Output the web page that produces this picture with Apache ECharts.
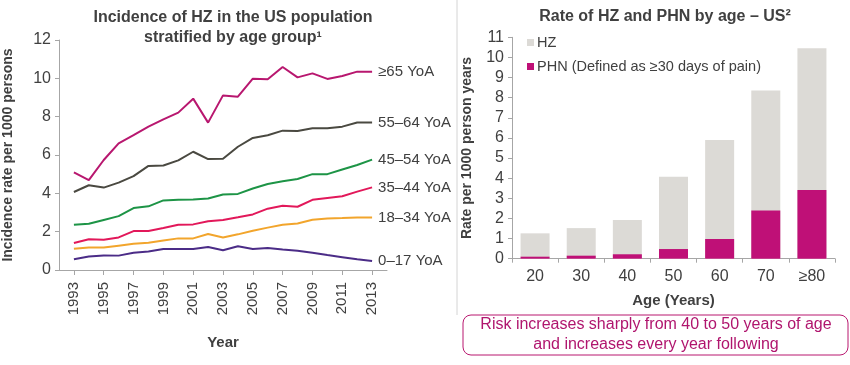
<!DOCTYPE html>
<html>
<head>
<meta charset="utf-8">
<script src="https://cdn.jsdelivr.net/npm/echarts@6/dist/echarts.min.js"></script>
<style>html,body{margin:0;padding:0;background:#fff}#c{width:850px;height:365px}</style>
</head>
<body>
<div id="c"></div>
<script>
const years = [1993,1994,1995,1996,1997,1998,1999,2000,2001,2002,2003,2004,2005,2006,2007,2008,2009,2010,2011,2012,2013];
const yearTicks = [1993,1995,1997,1999,2001,2003,2005,2007,2009,2011,2013];
const age65plus = [5.09,4.69,5.74,6.61,7.04,7.48,7.86,8.21,8.94,7.69,9.11,9.04,9.98,9.95,10.59,10.05,10.26,9.97,10.12,10.35,10.35];
const age55to64 = [4.07,4.42,4.30,4.56,4.90,5.43,5.45,5.72,6.17,5.79,5.80,6.43,6.89,7.03,7.27,7.25,7.39,7.39,7.48,7.70,7.70];
const age45to54 = [2.36,2.41,2.61,2.81,3.23,3.32,3.63,3.66,3.68,3.73,3.94,3.97,4.25,4.49,4.63,4.75,5.00,5.00,5.24,5.48,5.76];
const age35to44 = [1.41,1.60,1.58,1.70,2.03,2.03,2.19,2.36,2.38,2.54,2.61,2.75,2.90,3.20,3.35,3.30,3.66,3.76,3.85,4.09,4.31];
const age18to34 = [1.11,1.18,1.17,1.27,1.37,1.42,1.54,1.65,1.65,1.88,1.70,1.86,2.05,2.21,2.36,2.43,2.62,2.69,2.71,2.74,2.74];
const age0to17 = [0.56,0.70,0.76,0.75,0.90,0.97,1.10,1.10,1.10,1.20,1.03,1.24,1.10,1.15,1.07,1.00,0.90,0.78,0.67,0.56,0.47];
const lineNames = ['≥65 YoA','55–64 YoA','45–54 YoA','35–44 YoA','18–34 YoA','0–17 YoA'];
const lineColors = ['#b8176f','#4a4941','#1d9446','#e2185a','#f2a52c','#4b2c87'];
const lineData = [age65plus, age55to64, age45to54, age35to44, age18to34, age0to17];

const ageGroups = ['20','30','40','50','60','70','≥80'];
const hzRate = [1.26,1.52,1.92,4.07,5.90,8.36,10.45];
const phnRate = [0.10,0.15,0.22,0.48,0.98,2.40,3.41];

const FONT = "'Liberation Sans', Arial, sans-serif";
const TXT = '#404040';
const AX = '#a6a6a6';

const chart = echarts.init(document.getElementById('c'), null, {renderer:'canvas'});

const lineSeries = lineNames.map((n,i)=>({
  name:n, type:'line', xAxisIndex:0, yAxisIndex:0,
  data: years.map((y,j)=>[y, lineData[i][j]]),
  symbol:'none', smooth:false,
  lineStyle:{color:lineColors[i], width:2},
  itemStyle:{color:lineColors[i]},
  endLabel:{show:true, formatter:'{a}', color:TXT, fontSize:15, fontFamily:FONT, distance:6},
  z:10-i
}));

chart.setOption({
  animation:false,
  textStyle:{fontFamily:FONT},
  title:[
    {text:'Incidence of HZ in the US population\nstratified by age group¹', left:228, top:3, textAlign:'center',
     textStyle:{fontSize:16, fontWeight:'bold', color:TXT, fontFamily:FONT, lineHeight:20}},
    {text:'Rate of HZ and PHN by age – US²', left:660, top:4, textAlign:'center',
     textStyle:{fontSize:16, fontWeight:'bold', color:TXT, fontFamily:FONT}}
  ],
  legend:{
    show:true, orient:'vertical', left:522, top:30, itemWidth:7, itemHeight:7, itemGap:9,
    data:['HZ','PHN'], icon:'rect',
    formatter: n => n==='PHN' ? 'PHN (Defined as ≥30 days of pain)' : n,
    textStyle:{fontSize:14.5, color:TXT, fontFamily:FONT, padding:[0,0,0,-2]}
  },
  grid:[
    {left:58, top:40, width:329, height:230},
    {left:512, top:37.3, width:323, height:221.4}
  ],
  xAxis:[
    {type:'value', gridIndex:0, min:1992, max:2014, interval:1,
     name:'Year', nameLocation:'middle', nameGap:65,
     nameTextStyle:{fontSize:15, fontWeight:'bold', color:TXT, fontFamily:FONT},
     axisLine:{show:true, lineStyle:{color:AX}},
     axisTick:{show:true, customValues:yearTicks, length:5, lineStyle:{color:AX}},
     axisLabel:{customValues:yearTicks, formatter: v => String(v), rotate:90, fontSize:15, color:TXT, margin:12, fontFamily:FONT},
     splitLine:{show:false}},
    {type:'category', gridIndex:1, data:ageGroups,
     name:'Age (Years)', nameLocation:'middle', nameGap:35,
     nameTextStyle:{fontSize:15, fontWeight:'bold', color:TXT, fontFamily:FONT},
     axisLine:{show:true, lineStyle:{color:AX}},
     axisTick:{show:true, length:4, lineStyle:{color:AX}},
     axisLabel:{fontSize:16, color:TXT, margin:10, fontFamily:FONT}}
  ],
  yAxis:[
    {type:'value', gridIndex:0, min:0, max:12, interval:2,
     name:'Incidence rate per 1000 persons', nameLocation:'middle', nameGap:44, nameRotate:90,
     nameTextStyle:{fontSize:14, fontWeight:'bold', color:TXT, fontFamily:FONT},
     axisLine:{show:true, lineStyle:{color:AX}},
     axisTick:{show:true, length:4, lineStyle:{color:AX}},
     axisLabel:{fontSize:16, color:TXT, margin:8, fontFamily:FONT},
     splitLine:{show:false}},
    {type:'value', gridIndex:1, min:0, max:11, interval:1,
     name:'Rate per 1000 person years', nameLocation:'middle', nameGap:38, nameRotate:90,
     nameTextStyle:{fontSize:14, fontWeight:'bold', color:TXT, fontFamily:FONT},
     axisLine:{show:true, lineStyle:{color:AX}},
     axisTick:{show:true, length:4, lineStyle:{color:AX}},
     axisLabel:{fontSize:16, color:TXT, margin:8, fontFamily:FONT},
     splitLine:{show:false}}
  ],
  series: lineSeries.concat([
    {name:'HZ', type:'bar', xAxisIndex:1, yAxisIndex:1, data:hzRate, barWidth:29, barGap:'-100%',
     itemStyle:{color:'#dcdad6'}},
    {name:'PHN', type:'bar', xAxisIndex:1, yAxisIndex:1, data:phnRate, barWidth:29,
     itemStyle:{color:'#bf1077'}}
  ]),
  graphic:[
    {type:'line', shape:{x1:457, y1:0, x2:457, y2:315}, style:{stroke:'#d4d4d4', lineWidth:1}},
    {type:'rect', shape:{x:463, y:315, width:385, height:40, r:8},
     style:{fill:'#fff', stroke:'#b8176f', lineWidth:1}},
    {type:'text', x:656, y:335,
     style:{text:'Risk increases sharply from 40 to 50 years of age\nand increases every year following',
            fill:'#b0156e', fontSize:16, fontFamily:FONT, align:'center', verticalAlign:'middle', lineHeight:20}}
  ]
});
</script>
</body>
</html>
